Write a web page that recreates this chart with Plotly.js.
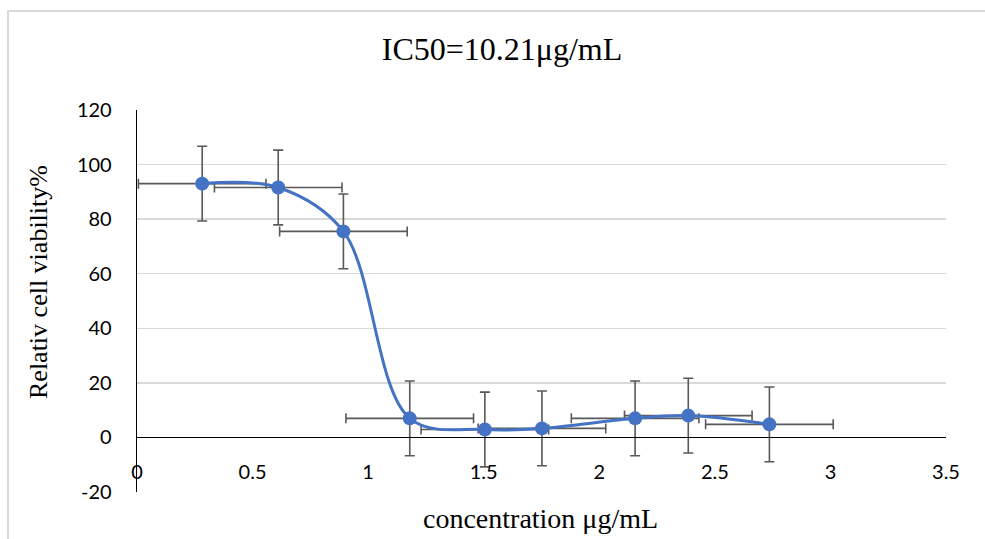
<!DOCTYPE html>
<html>
<head>
<meta charset="utf-8">
<script src="https://cdn.plot.ly/plotly-3.0.1.min.js"></script>
<style>html,body{margin:0;padding:0;background:#fff;}#chart{width:985px;height:539px;}</style>
</head>
<body>
<div id="chart"></div>
<script>
// Data
const concentration = [0.282, 0.611, 0.893, 1.18, 1.505, 1.752, 2.155, 2.385, 2.736];
const viability = [93.0, 91.6, 75.5, 7.0, 2.9, 3.3, 7.0, 8.0, 4.8];
const viabilityErr = [13.7, 13.7, 13.7, 13.7, 13.7, 13.7, 13.7, 13.7, 13.7];
const concentrationErr = [0.276, 0.276, 0.276, 0.276, 0.276, 0.276, 0.276, 0.276, 0.276];
const xTickVals = [0, 0.5, 1, 1.5, 2, 2.5, 3, 3.5];
const xTickText = ['0', '0.5', '1', '1.5', '2', '2.5', '3', '3.5'];
const yTickVals = [-20, 0, 20, 40, 60, 80, 100, 120];
const yTickText = ['-20', '0', '20', '40', '60', '80', '100', '120'];

const blue = '#4472C4';
const errColor = '#595959';
const serif = 'Liberation Serif, Times New Roman, serif';
const tickFont = {family: 'Lato, Carlito, Calibri, sans-serif', size: 20, color: '#000'};

const trace = {
  type: 'scatter',
  mode: 'lines+markers',
  x: concentration,
  y: viability,
  line: {color: blue, width: 3, shape: 'spline', smoothing: 1},
  marker: {color: blue, size: 14},
  error_y: {type: 'data', array: viabilityErr, visible: true, color: errColor, thickness: 1.6, width: 5},
  error_x: {type: 'data', array: concentrationErr, visible: true, color: errColor, thickness: 1.6, width: 5},
  hoverinfo: 'x+y',
  showlegend: false,
  cliponaxis: false
};

const L = 137, R = 946, T = 110, B = 492, W = 985, H = 539;
const px2x = p => (p - L) / (R - L);
const px2y = p => (B - p) / (B - T);

const layout = {
  width: W, height: H,
  margin: {l: L, r: W - R, t: T, b: H - B, pad: 0},
  paper_bgcolor: '#fff',
  plot_bgcolor: '#fff',
  title: {
    text: 'IC50=10.21μg/mL',
    font: {family: serif, size: 32, color: '#000'},
    xref: 'container', yref: 'container',
    x: 502 / W, xanchor: 'center',
    y: 1 - 49 / H, yanchor: 'middle'
  },
  xaxis: {
    range: [0, 3.5],
    tickvals: xTickVals, ticktext: xTickText,
    showgrid: false, zeroline: false,
    showline: true, linecolor: '#000', linewidth: 1.3,
    ticks: '', ticklabelstandoff: 17,
    anchor: 'free', position: px2y(437),
    tickfont: tickFont,
    fixedrange: true
  },
  yaxis: {
    range: [-20, 120],
    tickvals: yTickVals, ticktext: yTickText,
    showgrid: true, gridcolor: '#d9d9d9', gridwidth: 1.3,
    zeroline: false,
    showline: true, linecolor: '#000', linewidth: 1.3,
    ticks: '', ticklabelstandoff: 20,
    tickfont: tickFont,
    fixedrange: true
  },
  annotations: [
    {
      text: 'concentration μg/mL', showarrow: false,
      xref: 'paper', yref: 'paper',
      x: px2x(540), y: px2y(518), xanchor: 'center', yanchor: 'middle',
      font: {family: serif, size: 28, color: '#000'}
    },
    {
      text: 'Relativ cell viability%', showarrow: false, textangle: -90,
      xref: 'paper', yref: 'paper',
      x: px2x(38), y: px2y(282), xanchor: 'center', yanchor: 'middle',
      font: {family: serif, size: 26, color: '#000'}
    }
  ],
  shapes: [
    {
      type: 'rect', xref: 'paper', yref: 'paper',
      x0: px2x(8), x1: px2x(1010), y0: px2y(560), y1: px2y(11),
      line: {color: '#d9d9d9', width: 2}, fillcolor: 'rgba(0,0,0,0)', layer: 'below'
    }
  ]
};

Plotly.newPlot('chart', [trace], layout, {displayModeBar: false, staticPlot: true});
</script>
</body>
</html>
